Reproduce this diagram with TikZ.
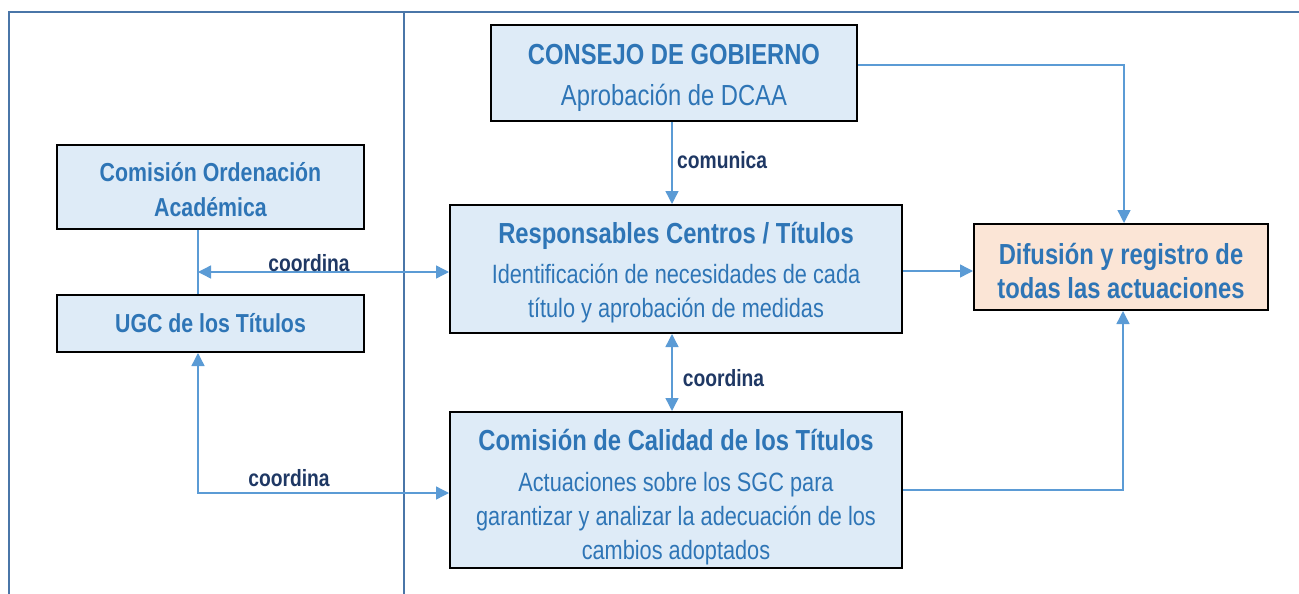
\documentclass[tikz,border=0pt]{standalone}
\usepackage{fontspec}
\setmainfont{Liberation Sans}[FakeStretch=0.82]
\usetikzlibrary{arrows.meta,calc}
\definecolor{boxtext}{HTML}{2E75B6}
\definecolor{boxfill}{HTML}{DEEBF7}
\definecolor{peach}{HTML}{FBE5D6}
\definecolor{labtext}{HTML}{1F3864}
\definecolor{arrcol}{HTML}{5B9BD5}
\definecolor{framecol}{HTML}{4A76A8}
\newcommand{\ttlfont}{\fontsize{29}{34}\selectfont\bfseries}
\newcommand{\bdyfont}{\fontsize{26.5}{34}\selectfont\mdseries}
\tikzset{
  box/.style={draw=black, line width=2pt, fill=boxfill, inner sep=0pt},
  boxtxt/.style={text=boxtext, inner sep=0pt, align=center},
  conn/.style={draw=arrcol, line width=1.4pt},
  arr/.style={conn, -{Triangle[length=13pt,width=13pt]}},
  dblarr/.style={conn, {Triangle[length=13pt,width=13pt]}-{Triangle[length=13pt,width=13pt]}},
  lab/.style={text=labtext, font=\fontsize{23.5}{28}\selectfont\bfseries, inner sep=0pt},
  framel/.style={draw=framecol, line width=2.5pt}
}
\begin{document}
\begin{tikzpicture}[x=1pt,y=-1pt]
\useasboundingbox (0,0) rectangle (1299,594);
% frame
\draw[framel] (9,594) -- (9,12) -- (1299,12);
\draw[framel] (404,12) -- (404,594);
% boxes
\node[box, minimum width=366pt, minimum height=96pt] (cons) at (674,73) {};
\node[box, minimum width=307pt, minimum height=84pt] (coa) at (210.5,187) {};
\node[box, minimum width=307pt, minimum height=57pt] (ugc) at (210.5,323.5) {};
\node[box, minimum width=452pt, minimum height=128pt] (resp) at (676,269) {};
\node[box, fill=peach, minimum width=294pt, minimum height=86pt] (dif) at (1121,267) {};
\node[box, minimum width=452pt, minimum height=156pt] (cal) at (676,490) {};
% box texts
\node[boxtxt, font=\fontsize{29}{34}\selectfont] (tcons) at ([yshift=-5pt]cons.center)
  {{\ttlfont CONSEJO DE GOBIERNO}\\[7pt]Aprobación de DCAA};
\node[boxtxt, font=\fontsize{26}{35}\selectfont\bfseries] (tcoa) at ([yshift=-3pt]coa.center)
  {Comisión Ordenación\\Académica};
\node[boxtxt, font=\fontsize{26}{35}\selectfont\bfseries] (tugc) at ([yshift=0pt]ugc.center)
  {UGC de los Títulos};
\node[boxtxt, font=\bdyfont] (tresp) at ([yshift=-4pt]resp.center)
  {{\ttlfont Responsables Centros / Títulos}\\[6pt]Identificación de necesidades de cada\\título y aprobación de medidas};
\node[boxtxt, font=\ttlfont] (tdif) at ([yshift=-4pt]dif.center)
  {Difusión y registro de\\todas las actuaciones};
\node[boxtxt, font=\bdyfont] (tcal) at ([yshift=-7pt]cal.center)
  {{\ttlfont Comisión de Calidad de los Títulos}\\[7pt]Actuaciones sobre los SGC para\\garantizar y analizar la adecuación de los\\cambios adoptados};
% connectors
\coordinate (lx) at (198,0);
\draw[arr] (cons.south -| 672,0) -- (resp.north -| 672,0);
\draw[arr] ([yshift=8pt]cons.east) -| ([xshift=3pt]dif.north);
\draw[arr] ([yshift=-2pt]resp.east) -- ([yshift=-2pt]resp.east -| dif.west);
\draw[arr] (cal.east) -| ([xshift=2pt]dif.south);
\draw[dblarr] (resp.south -| 672,0) -- (cal.north -| 672,0);
\draw[conn] (coa.south -| lx) -- (ugc.north -| lx);
\draw[dblarr] ([yshift=-3pt]resp.west -| lx) -- ([yshift=-3pt]resp.west);
\draw[dblarr] (ugc.south -| lx) |- ([yshift=-3pt]cal.west);
% labels
\node[lab, anchor=west] (l1) at (677,160) {comunica};
\node[lab] (l2) at (309,263) {coordina};
\node[lab] (l3) at (723.5,378) {coordina};
\node[lab] (l4) at (289,478) {coordina};
\end{tikzpicture}
\end{document}
